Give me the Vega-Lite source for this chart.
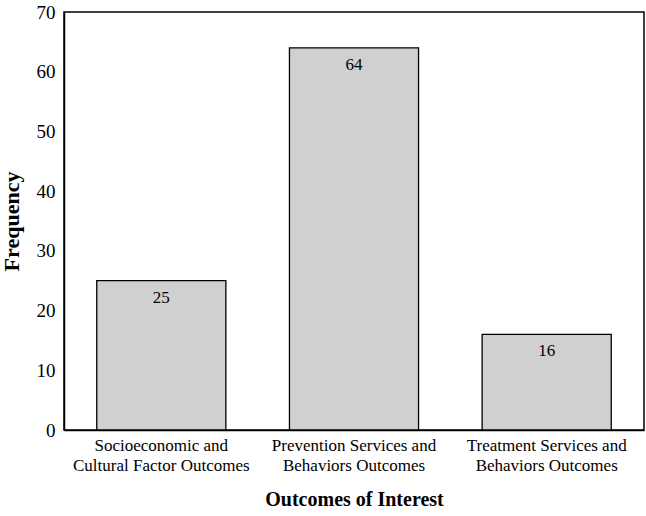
{
  "$schema": "https://vega.github.io/schema/vega-lite/v6.json",
  "autosize": "none",
  "width": 580,
  "height": 418,
  "padding": {"left": 64, "top": 12, "right": 2, "bottom": 86},
  "background": "white",
  "config": {
    "font": "Liberation Serif",
    "view": {"stroke": "black", "strokeWidth": 1.5}
  },
  "data": {
    "values": [
      {"outcome": "Socioeconomic and Cultural Factor Outcomes", "frequency": 25},
      {"outcome": "Prevention Services and Behaviors Outcomes", "frequency": 64},
      {"outcome": "Treatment Services and Behaviors Outcomes", "frequency": 16}
    ]
  },
  "encoding": {
    "x": {
      "field": "outcome",
      "type": "nominal",
      "sort": null,
      "scale": {"paddingInner": 0.33, "paddingOuter": 0.17},
      "axis": {
        "title": "Outcomes of Interest",
        "titleFont": "Liberation Serif",
        "titleFontSize": 20,
        "titleFontWeight": "bold",
        "titleColor": "black",
        "titlePadding": 16,
        "labelAngle": 0,
        "labelFontSize": 17,
        "labelColor": "black",
        "labelLineHeight": 20,
        "labelPadding": 7,
        "labelExpr": "split(replace(datum.label, ' and ', ' and|'), '|')",
        "ticks": false,
        "domainColor": "black",
        "domainWidth": 1.5,
        "encode": {
          "labels": {
            "update": {
              "dx": {"signal": "datum.index == 0 ? -6 : (datum.index == 1 ? 0 : 3)"}
            }
          }
        }
      }
    },
    "y": {
      "field": "frequency",
      "type": "quantitative",
      "scale": {"domain": [0, 70]},
      "axis": {
        "title": "Frequency",
        "titleFontSize": 22,
        "titleFontWeight": "bold",
        "titleColor": "black",
        "titlePadding": 13,
        "values": [0, 10, 20, 30, 40, 50, 60, 70],
        "labelFontSize": 19,
        "labelColor": "black",
        "labelPadding": 9,
        "ticks": false,
        "grid": false,
        "domainColor": "black",
        "domainWidth": 1.5
      }
    }
  },
  "layer": [
    {
      "mark": {"type": "bar", "fill": "#d0d0d0", "stroke": "black", "strokeWidth": 1.3}
    },
    {
      "mark": {"type": "text", "baseline": "top", "dy": 9, "fontSize": 17, "color": "black"},
      "encoding": {"text": {"field": "frequency", "type": "quantitative"}}
    }
  ]
}
